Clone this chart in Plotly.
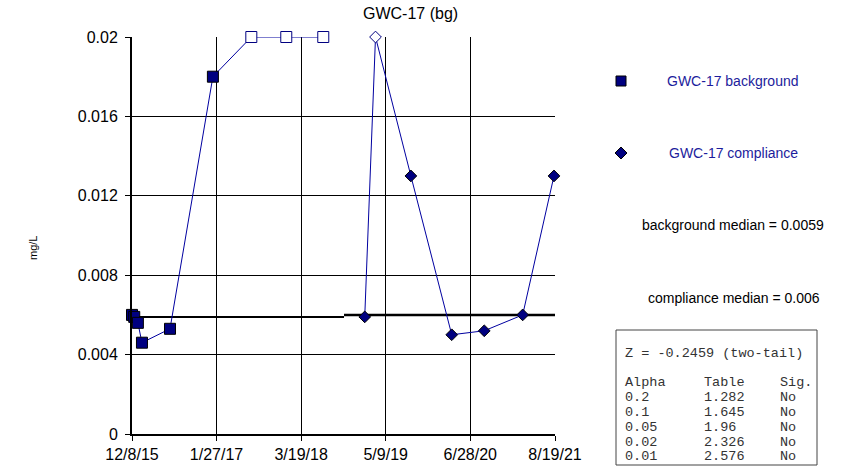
import plotly.graph_objects as go
from datetime import date

# ---------------- data ----------------
bg_dates = ["2015-12-08", "2015-12-19", "2016-01-06", "2016-01-26", "2016-06-12",
            "2017-01-09", "2017-07-17", "2018-01-05", "2018-07-06"]
bg_values = [0.006, 0.0059, 0.0056, 0.0046, 0.0053, 0.018, 0.02, 0.02, 0.02]
bg_nondetect = [False, False, False, False, False, False, True, True, True]

cp_dates = ["2019-01-26", "2019-03-20", "2019-09-10", "2020-03-29", "2020-09-05",
            "2021-03-13", "2021-08-14"]
cp_values = [0.0059, 0.02, 0.013, 0.005, 0.0052, 0.006, 0.013]
cp_nondetect = [False, True, False, False, False, False, False]

bg_median = 0.0059
cp_median = 0.006

x_tick_vals = ["2015-12-08", "2017-01-27", "2018-03-19", "2019-05-09", "2020-06-28", "2021-08-19"]
x_tick_text = ["12/8/15", "1/27/17", "3/19/18", "5/9/19", "6/28/20", "8/19/21"]
y_tick_vals = [0, 0.004, 0.008, 0.012, 0.016, 0.02]
y_tick_text = ["0", "0.004", "0.008", "0.012", "0.016", "0.02"]

stats_header = "Z = -0.2459 (two-tail)"
alpha = ["Alpha", "0.2", "0.1", "0.05", "0.02", "0.01"]
table = ["Table", "1.282", "1.645", "1.96", "2.326", "2.576"]
sig = ["Sig.", "No", "No", "No", "No", "No"]

# ---------------- layout geometry ----------------
W, H = 843, 471
L, R, T, B = 132, 288, 37, 37
PW, PH = W - L - R, H - T - B

def px(xp):
    return (xp - L) / PW

def py(yp):
    return (H - B - yp) / PH

NAVY = "#000080"
LINE = "#0000a0"
TXTBLUE = "#1c1c9c"
FONT = "Arial, Liberation Sans, sans-serif"
MONO = "Courier New, Liberation Mono, monospace"

fig = go.Figure()

# median lines: split at midpoint between last background and first compliance sample
d_last_bg = date.fromisoformat(bg_dates[-1])
d_first_cp = date.fromisoformat(cp_dates[0])
split = d_last_bg + (d_first_cp - d_last_bg) / 2
fig.add_trace(go.Scatter(x=[bg_dates[0], split.isoformat()], y=[bg_median, bg_median],
                         mode="lines", line=dict(color="black", width=2),
                         showlegend=False, hoverinfo="skip"))
fig.add_trace(go.Scatter(x=[split.isoformat(), x_tick_vals[-1]], y=[cp_median, cp_median],
                         mode="lines", line=dict(color="black", width=2.5),
                         showlegend=False, hoverinfo="skip"))

fig.add_trace(go.Scatter(
    x=bg_dates, y=bg_values, mode="lines+markers", name="GWC-17 background",
    line=dict(color=LINE, width=1),
    marker=dict(symbol="square", size=11,
                color=["white" if nd else NAVY for nd in bg_nondetect],
                line=dict(color=[NAVY if nd else "black" for nd in bg_nondetect], width=1)),
    showlegend=False, cliponaxis=False))

fig.add_trace(go.Scatter(
    x=cp_dates, y=cp_values, mode="lines+markers", name="GWC-17 compliance",
    line=dict(color=LINE, width=1),
    marker=dict(symbol="diamond", size=9,
                color=["white" if nd else NAVY for nd in cp_nondetect],
                line=dict(color=[NAVY if nd else "black" for nd in cp_nondetect], width=1)),
    showlegend=False, cliponaxis=False))

fig.update_layout(
    width=W, height=H,
    margin=dict(l=L, r=R, t=T, b=B, pad=0, autoexpand=False),
    paper_bgcolor="white", plot_bgcolor="white",
    font=dict(family=FONT, color="black", size=16),
    xaxis=dict(type="date", range=[x_tick_vals[0], x_tick_vals[-1]],
               tickmode="array", tickvals=x_tick_vals, ticktext=x_tick_text,
               showgrid=True, gridcolor="black", gridwidth=1,
               showline=True, linecolor="black", linewidth=2,
               ticks="outside", ticklen=5, tickcolor="black", tickwidth=1,
               tickfont=dict(size=16), zeroline=False, fixedrange=True,
               automargin=False),
    yaxis=dict(range=[0, 0.02], tickmode="array", tickvals=y_tick_vals, ticktext=y_tick_text,
               showgrid=True, gridcolor="black", gridwidth=1,
               showline=True, linecolor="black", linewidth=2,
               ticks="outside", ticklen=5, tickcolor="black", tickwidth=1,
               tickfont=dict(size=16), zeroline=False, fixedrange=True,
               ticklabelstandoff=4, automargin=False),
    showlegend=False,
)

ann = []
ann.append(dict(text="GWC-17 (bg)", x=px(410), y=py(14), xref="paper", yref="paper",
                showarrow=False, xanchor="center", yanchor="middle", font=dict(size=16)))
ann.append(dict(text="mg/L", x=px(33), y=py(248), xref="paper", yref="paper",
                showarrow=False, textangle=-90, xanchor="center", yanchor="middle",
                font=dict(size=11)))
# legend entries
ann.append(dict(text="GWC-17 background", x=px(733), y=py(81), xref="paper", yref="paper",
                showarrow=False, xanchor="center", yanchor="middle",
                font=dict(size=14, color=TXTBLUE)))
ann.append(dict(text="GWC-17 compliance", x=px(733), y=py(153), xref="paper", yref="paper",
                showarrow=False, xanchor="center", yanchor="middle",
                font=dict(size=14, color=TXTBLUE)))
ann.append(dict(text=f"background median = {bg_median}", x=px(733), y=py(225),
                xref="paper", yref="paper", showarrow=False, xanchor="center",
                yanchor="middle", font=dict(size=14)))
ann.append(dict(text=f"compliance median = {cp_median}", x=px(734), y=py(298),
                xref="paper", yref="paper", showarrow=False, xanchor="center",
                yanchor="middle", font=dict(size=14)))
# stats box text
ann.append(dict(text=stats_header, x=px(623), y=py(353), xref="paper", yref="paper",
                showarrow=False, xanchor="left", yanchor="middle",
                font=dict(family=MONO, size=13.5, color="#333333")))
row_y = [382, 397, 412, 427, 442, 456]
for i in range(len(alpha)):
    for col, xpos in ((alpha, 623), (table, 702), (sig, 778)):
        ann.append(dict(text=col[i], x=px(xpos), y=py(row_y[i]), xref="paper", yref="paper",
                        showarrow=False, xanchor="left", yanchor="middle",
                        font=dict(family=MONO, size=13.5, color="#333333")))
fig.update_layout(annotations=ann)

shapes = []
# legend markers
shapes.append(dict(type="rect", xref="paper", yref="paper",
                   x0=px(616), x1=px(626), y0=py(86), y1=py(76),
                   fillcolor=NAVY, line=dict(color="black", width=1)))
cx, cy, r = 621, 153, 6
shapes.append(dict(type="path", xref="paper", yref="paper",
                   path=f"M {px(cx - r)} {py(cy)} L {px(cx)} {py(cy - r)} L {px(cx + r)} {py(cy)} L {px(cx)} {py(cy + r)} Z",
                   fillcolor=NAVY, line=dict(color="black", width=1)))
# stats box
shapes.append(dict(type="rect", xref="paper", yref="paper",
                   x0=px(616), x1=px(817), y0=py(465), y1=py(330),
                   fillcolor="rgba(0,0,0,0)", line=dict(color="#444444", width=1)))
fig.update_layout(shapes=shapes)

fig.write_html("out.html", config={"displayModeBar": False},
               post_script="document.body.style.margin='0';document.body.style.overflow='hidden';")
